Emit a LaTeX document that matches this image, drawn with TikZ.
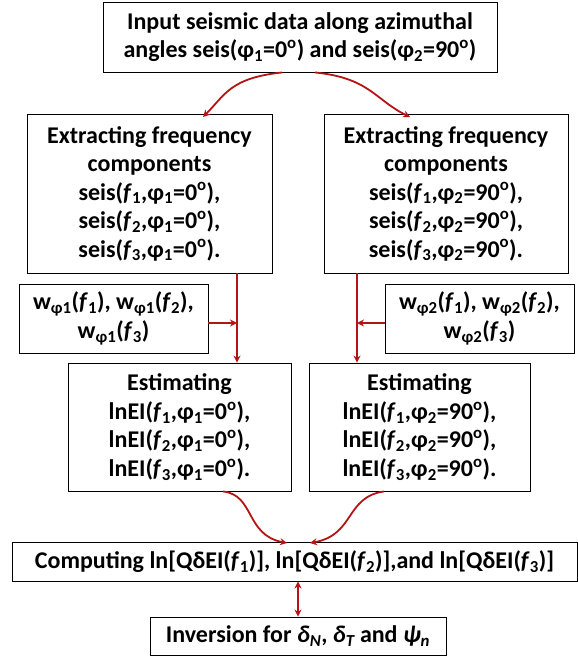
\documentclass[tikz,border=0pt]{standalone}
\usepackage{fontspec}
\setmainfont{Carlito}
\usetikzlibrary{arrows.meta}
\definecolor{arr}{RGB}{180,20,20}
\newcommand{\ff}[1]{\textit{f}\textsubscript{#1}}
\newcommand{\pp}[1]{φ\textsubscript{#1}}
\newcommand{\dg}{\textsuperscript{o}}
\begin{document}
\begin{tikzpicture}[x=1pt,y=-1pt,
  box/.style={draw=black,line width=0.9pt,rectangle,align=center,inner sep=0pt,
    font=\fontsize{24}{28.5}\selectfont\bfseries},
  arrline/.style={draw=arr,line width=1.8pt,-{Stealth[length=7pt,width=7pt]}},
  darr/.style={draw=arr,line width=1.8pt,{Stealth[length=7pt,width=7pt]}-{Stealth[length=7pt,width=7pt]}}]
\useasboundingbox (0,0) rectangle (578,657);
\node[box,minimum width=394pt,minimum height=70pt] (top) at (300,37)
  {Input seismic data along azimuthal\\angles seis(\pp{1}=0\dg) and seis(\pp{2}=90\dg)};
\node[box,minimum width=245pt,minimum height=159pt] (extL) at (149.5,193.5)
  {Extracting frequency\\components\\seis(\ff{1},\pp{1}=0\dg),\\seis(\ff{2},\pp{1}=0\dg),\\seis(\ff{3},\pp{1}=0\dg).};
\node[box,minimum width=244pt,minimum height=159pt] (extR) at (446,193.5)
  {Extracting frequency\\components\\seis(\ff{1},\pp{2}=90\dg),\\seis(\ff{2},\pp{2}=90\dg),\\seis(\ff{3},\pp{2}=90\dg).};
\node[box,minimum width=189pt,minimum height=69pt] (wL) at (113.5,318.5)
  {w\textsubscript{φ1}(\ff{1}), w\textsubscript{φ1}(\ff{2}),\\w\textsubscript{φ1}(\ff{3})};
\node[box,minimum width=189pt,minimum height=69pt] (wR) at (479.5,318.5)
  {w\textsubscript{φ2}(\ff{1}), w\textsubscript{φ2}(\ff{2}),\\w\textsubscript{φ2}(\ff{3})};
\node[box,minimum width=223pt,minimum height=128pt] (estL) at (179.5,427)
  {Estimating\\lnEI(\ff{1},\pp{1}=0\dg),\\lnEI(\ff{2},\pp{1}=0\dg),\\lnEI(\ff{3},\pp{1}=0\dg).};
\node[box,minimum width=221pt,minimum height=128pt] (estR) at (419.5,427)
  {Estimating\\lnEI(\ff{1},\pp{2}=90\dg),\\lnEI(\ff{2},\pp{2}=90\dg),\\lnEI(\ff{3},\pp{2}=90\dg).};
\node[box,minimum width=565pt,minimum height=39pt] (comp) at (294.5,561.5)
  {Computing ln[QδEI(\ff{1})], ln[QδEI(\ff{2})],and ln[QδEI(\ff{3})]};
\node[box,minimum width=296pt,minimum height=38pt] (inv) at (298,636)
  {Inversion for \textit{δ\textsubscript{N}}, \textit{δ\textsubscript{T}} and \textit{ψ\textsubscript{n}}};
% top curves
\draw[arrline] (top.south -| 282,0) .. controls (230,78) and (225,95) .. (203,117);
\draw[arrline] (top.south -| 315,0) .. controls (370,78) and (375,100) .. (410,117);
% verticals
\coordinate (jL) at (237,323);
\coordinate (jR) at (357,323);
\draw[arrline] (extL.south -| jL) -- (estL.north -| jL);
\draw[arrline] (extR.south -| jR) -- (estR.north -| jR);
\draw[arrline] (wL.east |- jL) -- (jL);
\draw[arrline] (wR.west |- jR) -- (jR);
% bottom curves
\draw[arrline] (estL.south -| 223,0) .. controls (255,495) and (245,535) .. (287,543);
\draw[arrline] (estR.south -| 384,0) .. controls (345,497) and (355,535) .. (310,543);
\draw[darr] (comp.south -| 298,0) -- (inv.north -| 298,0);
\end{tikzpicture}
\end{document}
